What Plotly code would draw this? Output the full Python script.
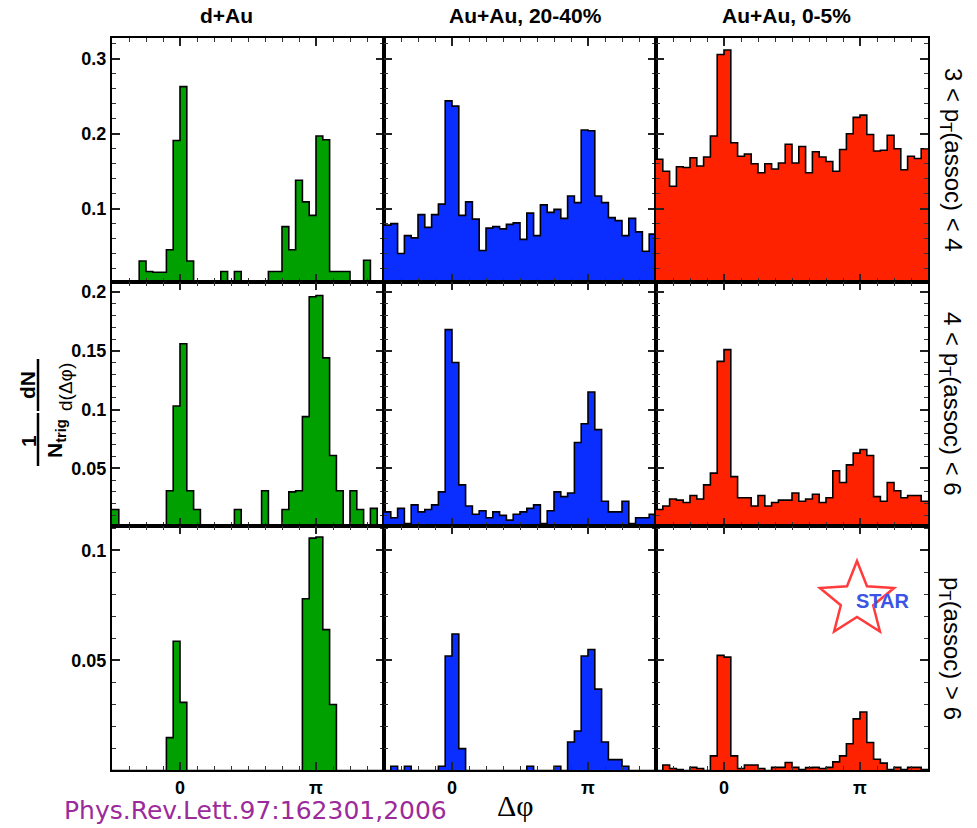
import numpy as np
import plotly.graph_objects as go
from plotly.subplots import make_subplots

PI = np.pi
N_BINS = 40
X_MIN, X_MAX = -PI / 2, 3 * PI / 2

column_titles = ["d+Au", "Au+Au, 20-40%", "Au+Au, 0-5%"]
row_titles = ["3 < p<sub>T</sub>(assoc) < 4",
              "4 < p<sub>T</sub>(assoc) < 6",
              "p<sub>T</sub>(assoc) > 6"]
column_colors = ["#00a000", "#0a2eff", "#ff2200"]

# --- 3 < pT(assoc) < 4 ---
dau_3_4 = [0, 0, 0, 0, 0.030, 0.016, 0.015, 0.015, 0.045, 0.191,
           0.263, 0.030, 0, 0, 0, 0, 0.016, 0, 0.016, 0,
           0, 0, 0, 0.016, 0.016, 0.076, 0.045, 0.138, 0.109, 0.091,
           0.197, 0.192, 0.016, 0.016, 0.016, 0, 0, 0.031, 0, 0]
auau2040_3_4 = [0.078, 0.080, 0.040, 0.064, 0.061, 0.092, 0.075, 0.092, 0.106, 0.244,
                0.237, 0.091, 0.109, 0.086, 0.044, 0.074, 0.076, 0.073, 0.079, 0.081,
                0.059, 0.094, 0.064, 0.105, 0.095, 0.099, 0.087, 0.117, 0.108, 0.205,
                0.204, 0.117, 0.108, 0.088, 0.084, 0.064, 0.087, 0.069, 0.043, 0.066]
auau005_3_4 = [0.166, 0.150, 0.130, 0.156, 0.155, 0.168, 0.157, 0.169, 0.197, 0.306,
               0.312, 0.188, 0.170, 0.173, 0.160, 0.148, 0.160, 0.153, 0.161, 0.186,
               0.161, 0.183, 0.148, 0.176, 0.169, 0.163, 0.150, 0.179, 0.200, 0.222,
               0.225, 0.199, 0.177, 0.178, 0.198, 0.180, 0.152, 0.170, 0.167, 0.180]

# --- 4 < pT(assoc) < 6 ---
dau_4_6 = [0.015, 0, 0, 0, 0, 0, 0, 0, 0.031, 0.103,
           0.156, 0.031, 0.015, 0, 0, 0, 0, 0, 0.015, 0,
           0, 0, 0.031, 0, 0, 0.015, 0.030, 0.031, 0.094, 0.196,
           0.197, 0.144, 0.061, 0.031, 0, 0.031, 0.015, 0, 0.016, 0]
auau2040_4_6 = [0.013, 0.008, 0.016, 0.003, 0.019, 0.013, 0.015, 0.019, 0.030, 0.168,
                0.140, 0.036, 0.018, 0.011, 0.014, 0.008, 0.013, 0.010, 0.006, 0.011,
                0.013, 0.016, 0.019, 0.003, 0.014, 0.030, 0.026, 0.029, 0.072, 0.088,
                0.115, 0.083, 0.022, 0.013, 0.013, 0.022, 0.003, 0.008, 0.008, 0.011]
auau005_4_6 = [0.015, 0.018, 0.024, 0.023, 0.021, 0.027, 0.024, 0.036, 0.046, 0.141,
               0.151, 0.043, 0.025, 0.025, 0.018, 0.027, 0.018, 0.021, 0.023, 0.023,
               0.029, 0.022, 0.024, 0.028, 0.021, 0.025, 0.048, 0.038, 0.053, 0.063,
               0.066, 0.061, 0.026, 0.022, 0.038, 0.031, 0.025, 0.027, 0.027, 0.022]

# --- pT(assoc) > 6 ---
dau_gt6 = [0, 0, 0, 0, 0, 0, 0, 0, 0.015, 0.0587,
           0.031, 0, 0, 0, 0, 0, 0, 0, 0, 0,
           0, 0, 0, 0, 0, 0, 0, 0, 0.078, 0.1055,
           0.106, 0.064, 0.030, 0, 0, 0, 0, 0, 0, 0]
auau2040_gt6 = [0, 0.002, 0, 0.002, 0, 0, 0, 0, 0.002, 0.052,
                0.062, 0.010, 0, 0, 0, 0, 0, 0, 0, 0,
                0, 0.002, 0, 0, 0, 0.002, 0, 0.013, 0.018, 0.052,
                0.055, 0.037, 0.013, 0.005, 0.005, 0.002, 0, 0, 0, 0]
auau005_gt6 = [0, 0.0026, 0.001, 0.0005, 0, 0.0015, 0.001, 0, 0.0067, 0.0523,
               0.0515, 0.0067, 0.001, 0.0026, 0.0026, 0.001, 0, 0.0015, 0.0015, 0.0037,
               0.0015, 0.0005, 0.0014, 0.0015, 0.001, 0.0015, 0.004, 0.0067, 0.0122, 0.0235,
               0.0266, 0.0128, 0.0052, 0.0034, 0.0005, 0.0015, 0.0005, 0.0015, 0.0015, 0.0005]

panel_data = [[dau_3_4, auau2040_3_4, auau005_3_4],
              [dau_4_6, auau2040_4_6, auau005_4_6],
              [dau_gt6, auau2040_gt6, auau005_gt6]]

y_ranges = [[0.002, 0.328], [0.001, 0.2085], [0.0003, 0.111]]
y_major = [[0.1, 0.2, 0.3], [0.05, 0.1, 0.15, 0.2], [0.05, 0.1]]
y_major_text = [["0.1", "0.2", "0.3"], ["0.05", "0.1", "0.15", "0.2"], ["0.05", "0.1"]]
y_minor_step = [0.02, 0.01, 0.01]

x_major = [0, PI]
x_major_text = ["0", "π"]

W, H = 977, 828
L, R, T, B = 112, 49, 38, 58
PLOT_X0, PLOT_X1 = L, W - R
PLOT_Y0, PLOT_Y1 = T, H - B

fig = make_subplots(rows=3, cols=3, horizontal_spacing=0, vertical_spacing=0)

edges = np.linspace(X_MIN, X_MAX, N_BINS + 1)
for r in range(3):
    for c in range(3):
        vals = list(panel_data[r][c])
        fig.add_trace(go.Scatter(
            x=edges, y=vals + [vals[-1]],
            mode="lines", line=dict(shape="hv", color="black", width=1.6),
            fill="tozeroy", fillcolor=column_colors[c],
            showlegend=False, hoverinfo="skip"), row=r + 1, col=c + 1)
        fig.update_xaxes(
            range=[X_MIN, X_MAX], tickmode="array", tickvals=x_major,
            ticktext=x_major_text, showticklabels=(r == 2),
            ticks="inside", ticklen=8, tickwidth=1.5, tickcolor="#222",
            minor=dict(ticks="inside", ticklen=4, tickwidth=1.2, tickcolor="#333",
                       tickmode="linear", tick0=0, dtick=PI / 8, showgrid=False),
            showline=True, linewidth=2.2, linecolor="black", mirror="allticks",
            showgrid=False, zeroline=False,
            tickfont=dict(family="Liberation Sans", size=18, color="black", weight="bold"),
            row=r + 1, col=c + 1)
        fig.update_yaxes(
            range=y_ranges[r], tickmode="array", tickvals=y_major[r],
            ticktext=y_major_text[r], showticklabels=(c == 0),
            ticks="inside", ticklen=8, tickwidth=1.5, tickcolor="#222",
            minor=dict(ticks="inside", ticklen=4, tickwidth=1.2, tickcolor="#333",
                       tickmode="linear", tick0=0, dtick=y_minor_step[r], showgrid=False),
            showline=True, linewidth=2.2, linecolor="black", mirror="allticks",
            showgrid=False, zeroline=False,
            tickfont=dict(family="Liberation Sans", size=18, color="black", weight="bold"),
            row=r + 1, col=c + 1)


def px(x):
    return (x - PLOT_X0) / (PLOT_X1 - PLOT_X0)


def py(y):
    return (PLOT_Y1 - y) / (PLOT_Y1 - PLOT_Y0)


ann = []
title_x = [226, 525, 786]
for c in range(3):
    ann.append(dict(x=px(title_x[c]), y=py(15), text="<b>" + column_titles[c] + "</b>",
                    font=dict(family="Liberation Sans", size=21, color="black")))
row_centers = [160, 404, 649]
for r in range(3):
    ann.append(dict(x=px(951), y=py(row_centers[r]), text=row_titles[r], textangle=90,
                    font=dict(family="Liberation Sans", size=24, color="black")))

# y-axis title as two stacked fractions
ann += [
    dict(x=px(28), y=py(441), text="<b>1</b>", textangle=-90,
         font=dict(family="Liberation Sans", size=21, color="black")),
    dict(x=px(56), y=py(438), text="<b>N<sub>trig</sub></b>", textangle=-90,
         font=dict(family="Liberation Sans", size=21, color="black")),
    dict(x=px(27), y=py(385), text="<b>dN</b>", textangle=-90,
         font=dict(family="Liberation Sans", size=21, color="black")),
    dict(x=px(65), y=py(387), text="d(Δφ)", textangle=-90,
         font=dict(family="Liberation Sans", size=19, color="black")),
]

# citation and axis label
ann += [
    dict(x=px(255), y=py(810), text="Phys.Rev.Lett.97:162301,2006",
         font=dict(family="DejaVu Sans", size=25, color="#9b2b9b")),
    dict(x=px(515), y=py(805), text="Δφ",
         font=dict(family="Liberation Serif", size=30, color="black")),
    dict(x=px(883), y=py(601), text="<b>STAR</b>",
         font=dict(family="Liberation Sans", size=20, color="#3a55e6")),
]
for a in ann:
    a.update(xref="paper", yref="paper", showarrow=False, xanchor="center", yanchor="middle")

shapes = [
    dict(type="line", xref="paper", yref="paper", x0=px(38), x1=px(38), y0=py(413), y1=py(466),
         line=dict(color="black", width=2.5)),
    dict(type="line", xref="paper", yref="paper", x0=px(38), x1=px(38), y0=py(359), y1=py(411),
         line=dict(color="black", width=2.5)),
]

# STAR logo star outline
cx, cy, R_out, R_in = 857, 600, 39, 17
pts = []
for k in range(10):
    ang = -PI / 2 + k * PI / 5
    rr = R_out if k % 2 == 0 else R_in
    pts.append((cx + rr * np.cos(ang), cy + rr * np.sin(ang)))
path = "M " + " L ".join(f"{px(x):.5f},{py(y):.5f}" for x, y in pts) + " Z"
shapes.append(dict(type="path", xref="paper", yref="paper", path=path,
                   line=dict(color="#ff3b3b", width=2.5), layer="above"))

fig.update_layout(
    width=W, height=H, margin=dict(l=L, r=R, t=T, b=B),
    paper_bgcolor="white", plot_bgcolor="white",
    annotations=ann, shapes=shapes, showlegend=False,
)
fig.write_html("out.html", config={"displayModeBar": False},
               post_script="document.body.style.margin='0px';document.body.style.overflow='hidden';")
